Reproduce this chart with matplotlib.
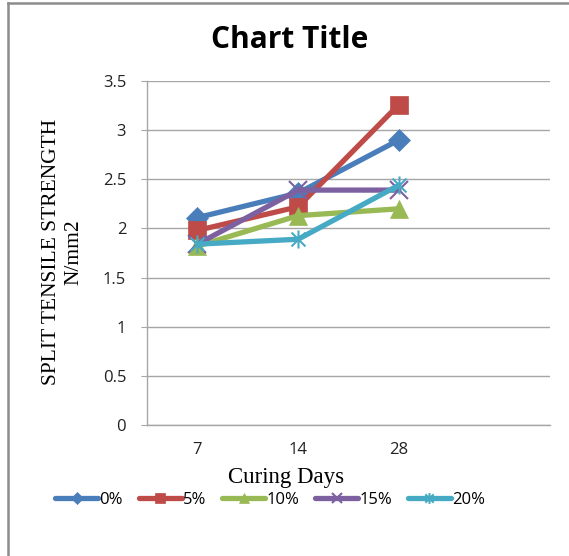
import matplotlib
matplotlib.use("Agg")
import matplotlib.pyplot as plt
from matplotlib.lines import Line2D
from matplotlib.path import Path

# Curing age categories (the fourth slot is left empty)
days = ["7", "14", "28", ""]
series_names = ["0%", "5%", "10%", "15%", "20%"]
s0 = [2.11, 2.36, 2.90]
s5 = [1.98, 2.22, 3.26]
s10 = [1.82, 2.13, 2.20]
s15 = [1.84, 2.39, 2.39]
s20 = [1.84, 1.89, 2.44]
y_ticks = [0, 0.5, 1, 1.5, 2, 2.5, 3, 3.5]
y_tick_labels = ["0", "0.5", "1", "1.5", "2", "2.5", "3", "3.5"]

colors = ["#4A7EBB", "#BE4B48", "#98B954", "#7D60A0", "#46AAC5"]

# star marker: an x with a vertical stroke through it
star = Path(
    [(-1, -1), (1, 1), (-1, 1), (1, -1), (0, -1.3), (0, 1.3)],
    [Path.MOVETO, Path.LINETO, Path.MOVETO, Path.LINETO, Path.MOVETO, Path.LINETO],
)
markers = ["D", "s", "^", "x", star]
msizes = [11, 13, 13, 13, 13]
mew = [0.5, 0.5, 0.5, 1.5, 1.5]

W, H = 569, 556
fig = plt.figure(figsize=(W / 100, H / 100), dpi=100)
ax = fig.add_axes([147 / W, 1 - 425 / H, (550 - 147) / W, (425 - 81) / H])

x = list(range(len(days)))
for vals, name, c, m, ms, ew in zip([s0, s5, s10, s15, s20], series_names, colors,
                                    markers, msizes, mew):
    ax.plot(x[:len(vals)], vals, color=c, lw=3.8, marker=m, markersize=ms,
            markeredgewidth=ew, markeredgecolor=c, markerfacecolor=c, label=name,
            solid_capstyle="round", zorder=3)

ax.set_xlim(-0.5, 3.5)
ax.set_ylim(0, 3.5)
ax.set_yticks(y_ticks)
ax.set_yticklabels(y_tick_labels)
ax.set_xticks(x[:3])
ax.set_xticklabels(days[:3])
ax.yaxis.grid(True, color="#A6A6A6", lw=1)
ax.set_axisbelow(True)

for side in ("top", "right"):
    ax.spines[side].set_visible(False)
for side in ("left", "bottom"):
    ax.spines[side].set_color("#A6A6A6")
    ax.spines[side].set_linewidth(1)

ax.tick_params(axis="y", length=4, color="#A6A6A6", pad=11, labelsize=12, labelcolor="#222222")
ax.tick_params(axis="x", length=0, pad=12, labelsize=12, labelcolor="#222222")
for lab in ax.get_xticklabels() + ax.get_yticklabels():
    lab.set_fontfamily("Open Sans")

fig.text(63 / W, 1 - 252 / H, "SPLIT TENSILE STRENGTH\nN/mm2", rotation=90,
         ha="center", va="center", multialignment="center",
         family="Liberation Serif", fontsize=15.5, linespacing=1.25)
fig.text(286 / W, 1 - 478 / H, "Curing Days", ha="center", va="center",
         family="Liberation Serif", fontsize=16.5)

fig.text(290 / W, 1 - 40 / H, "Chart Title", ha="center", va="center",
         family="Open Sans", fontweight="bold", fontsize=21.5)

handles, labels = ax.get_legend_handles_labels()
fig.legend(handles, labels, loc="center", bbox_to_anchor=(270 / W, 1 - 500 / H),
           ncol=5, frameon=False, handlelength=2.6, handletextpad=0.05,
           columnspacing=0.95, markerscale=0.6,
           prop={"family": "Open Sans", "size": 12})

# outer frame strokes along the top and left edges
fig.add_artist(Line2D([7.5 / W, 1], [1 - 2.5 / H, 1 - 2.5 / H], transform=fig.transFigure,
                      color="#8C8C8C", lw=1.8))
fig.add_artist(Line2D([7.5 / W, 7.5 / W], [0, 1 - 2.5 / H], transform=fig.transFigure,
                      color="#8C8C8C", lw=1.8))

fig.savefig("out.png", dpi=100)
